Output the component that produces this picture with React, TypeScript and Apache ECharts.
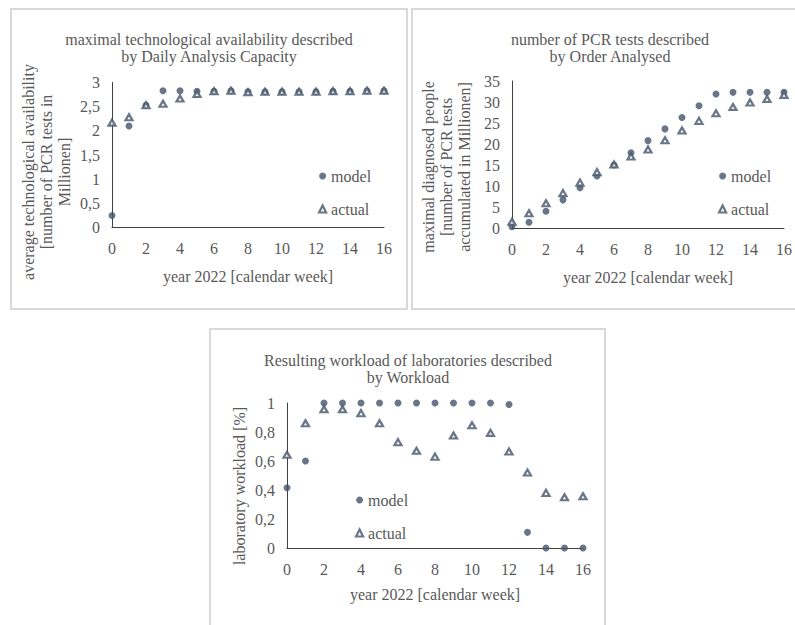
import React, { useEffect, useRef } from "react";
import * as echarts from "echarts";

const weeks = [0, 1, 2, 3, 4, 5, 6, 7, 8, 9, 10, 11, 12, 13, 14, 15, 16];

const capacityModel = [0.25, 2.1, 2.53, 2.83, 2.83, 2.82, 2.82, 2.83, 2.81, 2.81, 2.81, 2.81, 2.81, 2.82, 2.82, 2.83, 2.83];
const capacityActual = [2.17, 2.28, 2.53, 2.56, 2.67, 2.76, 2.82, 2.83, 2.8, 2.81, 2.81, 2.81, 2.81, 2.82, 2.82, 2.83, 2.83];

const ordersModel = [0.3, 1.35, 4.0, 6.7, 9.6, 12.4, 15.0, 17.9, 20.8, 23.6, 26.3, 29.1, 31.9, 32.3, 32.3, 32.3, 32.3];
const ordersActual = [1.5, 3.5, 5.9, 8.3, 10.8, 13.3, 15.1, 17.0, 18.7, 20.9, 23.2, 25.5, 27.3, 28.8, 29.9, 30.7, 31.7];

const workloadModel = [0.416, 0.6, 1, 1, 1, 1, 1, 1, 1, 1, 1, 1, 0.99, 0.108, 0, 0, 0];
const workloadActual = [0.643, 0.86, 0.957, 0.957, 0.93, 0.86, 0.73, 0.67, 0.63, 0.776, 0.847, 0.794, 0.666, 0.52, 0.38, 0.35, 0.357];

const titles = [
  "maximal technological availability described\nby Daily Analysis Capacity",
  "number of PCR tests described\nby Order Analysed",
  "Resulting workload of laboratories described\nby Workload",
];
const yNames = [
  "average technological availability\n[number of PCR tests in\nMillionen]",
  "maximal diagnosed people\n[number of PCR tests\naccumulated in Millionen]",
  "laboratory workload [%]",
];
const xName = "year 2022 [calendar week]";
const seriesNames = ["model", "actual"];

const FONT = "'Liberation Serif', 'Times New Roman', serif";
const TEXT = "#595959";
const AXIS = "#404040";
const MARK = "#44546A";
const BORDER = "#D9D9D9";

const comma = (v: number) => String(Number(v.toFixed(2))).replace(".", ",");

export default function App() {
  const ref = useRef<HTMLDivElement>(null);

  useEffect(() => {
    if (!ref.current) return;
    const chart = echarts.init(ref.current, undefined, { renderer: "svg" });

    const grids = [
      { left: 112, top: 82.5, width: 272, height: 145 },
      { left: 512, top: 81, width: 272, height: 147 },
      { left: 287, top: 403, width: 296, height: 145 },
    ];
    const yRanges = [
      { max: 3, interval: 0.5 },
      { max: 35, interval: 5 },
      { max: 1, interval: 0.2 },
    ];
    const xNameGaps = [41, 41, 38];
    const data = [
      [capacityModel, capacityActual],
      [ordersModel, ordersActual],
      [workloadModel, workloadActual],
    ];
    const titlePos = [
      { x: 209, y: 31 },
      { x: 610, y: 31 },
      { x: 408, y: 352 },
    ];
    const legendPos = [
      { left: 318, top: 168 },
      { left: 718, top: 168 },
      { left: 355, top: 492 },
    ];
    const yNamePos = [
      { x: 46, y: 172 },
      { x: 446, y: 167 },
      { x: 239, y: 486 },
    ];

    const textStyle = { fontFamily: FONT, fontSize: 16, color: TEXT, fontWeight: "normal" as const };
    const modelStyle = { color: MARK, borderWidth: 0 };
    const actualStyle = { color: "#ffffff", borderColor: MARK, borderWidth: 2.2 };

    const series: any[] = [];
    data.forEach((pair, gi) => {
      pair.forEach((arr, si) => {
        series.push({
          type: "scatter",
          name: seriesNames[si],
          xAxisIndex: gi,
          yAxisIndex: gi,
          symbol: si === 0 ? "circle" : "triangle",
          symbolSize: si === 0 ? 7 : [7, 6],
          itemStyle: si === 0 ? modelStyle : actualStyle,
          data: weeks.map((w, i) => [w, arr[i]]),
          z: 2 + si,
        });
      });
    });

    const option: any = {
      animation: false,
      backgroundColor: "#ffffff",
      title: titles.map((t, i) => ({
        text: t,
        left: titlePos[i].x,
        top: titlePos[i].y,
        textAlign: "center",
        padding: 0,
        textStyle: { ...textStyle, lineHeight: 17 },
      })),
      legend: legendPos.map((p) => ({
        data: [
          { name: seriesNames[0], icon: "circle", itemStyle: modelStyle },
          { name: seriesNames[1], icon: "triangle", itemStyle: actualStyle },
        ],
        orient: "vertical",
        left: p.left,
        top: p.top,
        padding: 0,
        itemWidth: 7,
        itemHeight: 7,
        itemGap: 17,
        selectedMode: false,
        textStyle: { ...textStyle },
      })),
      grid: grids,
      xAxis: grids.map((_, i) => ({
        type: "value",
        gridIndex: i,
        min: 0,
        max: 16,
        interval: 2,
        name: xName,
        nameLocation: "middle",
        nameGap: xNameGaps[i],
        nameTextStyle: textStyle,
        axisLine: { show: true, lineStyle: { color: AXIS, width: 1 } },
        axisTick: { show: false },
        splitLine: { show: false },
        axisLabel: { ...textStyle, margin: 13 },
      })),
      yAxis: grids.map((_, i) => ({
        type: "value",
        gridIndex: i,
        min: 0,
        max: yRanges[i].max,
        interval: yRanges[i].interval,
        axisLine: { show: true, lineStyle: { color: AXIS, width: 1 } },
        axisTick: { show: false },
        splitLine: { show: false },
        axisLabel: { ...textStyle, margin: 12, formatter: (v: number) => comma(v) },
      })),
      graphic: [
        { type: "rect", shape: { x: 11, y: 9, width: 396, height: 300 }, style: { fill: "none", stroke: BORDER, lineWidth: 2 }, z: -1 },
        { type: "rect", shape: { x: 412, y: 9, width: 400, height: 300 }, style: { fill: "none", stroke: BORDER, lineWidth: 2 }, z: -1 },
        { type: "rect", shape: { x: 210, y: 329, width: 395, height: 320 }, style: { fill: "none", stroke: BORDER, lineWidth: 2 }, z: -1 },
        ...yNames.map((n, i) => ({
          type: "text",
          x: yNamePos[i].x,
          y: yNamePos[i].y,
          rotation: Math.PI / 2,
          style: {
            text: n,
            font: `16px ${FONT}`,
            fill: TEXT,
            align: "center",
            verticalAlign: "middle",
            lineHeight: 18,
          },
        })),
      ],
      series,
    };

    chart.setOption(option);
    return () => chart.dispose();
  }, []);

  return (
    <div
      ref={ref}
      style={{ position: "fixed", left: 0, top: 0, width: 795, height: 625, background: "#fff" }}
    />
  );
}
